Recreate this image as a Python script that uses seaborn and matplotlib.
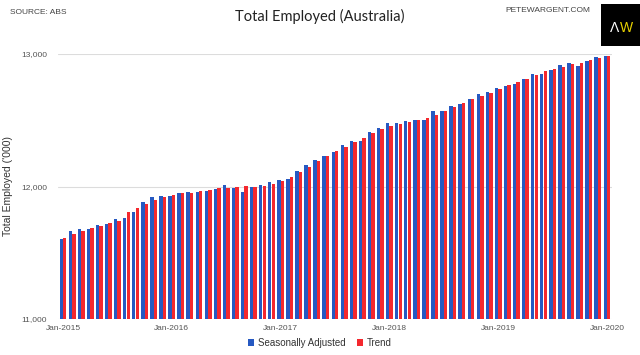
import numpy as np
import pandas as pd
import matplotlib
matplotlib.use('Agg')
import matplotlib.pyplot as plt
import matplotlib.ticker as mticker
import seaborn as sns

## =============================== ##
## data ('000 persons, monthly Jan-2015 .. Jan-2020)

months = pd.date_range('2015-01-01', '2020-01-01', freq='MS').strftime('%b-%Y').tolist()

seasonally_adjusted = [
    11601, 11666, 11679, 11677, 11707, 11719, 11752, 11760, 11805, 11881, 11921, 11931,
    11931, 11949, 11958, 11961, 11966, 11981, 12011, 11989, 11961, 11994, 12011, 12032,
    12051, 12054, 12117, 12162, 12200, 12228, 12260, 12311, 12343, 12343, 12409, 12444,
    12479, 12482, 12492, 12502, 12502, 12570, 12572, 12610, 12625, 12660, 12698, 12716,
    12743, 12756, 12773, 12809, 12846, 12851, 12881, 12917, 12930, 12909, 12947, 12975,
    12987]

trend = [
    11614, 11641, 11666, 11687, 11702, 11722, 11740, 11805, 11835, 11868, 11898, 11923,
    11936, 11949, 11953, 11966, 11974, 11986, 11989, 11996, 12002, 11994, 12004, 12021,
    12041, 12072, 12109, 12147, 12190, 12228, 12266, 12298, 12336, 12366, 12401, 12432,
    12457, 12472, 12489, 12502, 12519, 12542, 12572, 12600, 12632, 12660, 12685, 12708,
    12736, 12764, 12789, 12814, 12841, 12869, 12887, 12904, 12922, 12935, 12952, 12967,
    12987]

series_names = ['Seasonally Adjusted', 'Trend']
tick_labels = ['Jan-2015', 'Jan-2016', 'Jan-2017', 'Jan-2018', 'Jan-2019', 'Jan-2020']

df = pd.DataFrame({'month': months * 2,
                   'series': [series_names[0]] * len(months) + [series_names[1]] * len(months),
                   'employed': seasonally_adjusted + trend})

## =============================== ##

sns.set_style('white')
plt.rcParams['font.family'] = ['Liberation Sans', 'DejaVu Sans']

colors = {'Seasonally Adjusted': '#2659c2', 'Trend': '#f4282e'}

fig = plt.figure(figsize=(6.4, 3.55), dpi=100)
ax = fig.add_axes([58/640, 1 - 319/355, (612 - 58)/640, (319 - 54)/355])

sns.barplot(ax=ax, data=df, x='month', y='employed', hue='series', order=months,
            hue_order=series_names, palette=colors, width=0.78, gap=0.05,
            saturation=1, linewidth=0, errorbar=None)

ax.set_ylim(11000, 13000)
ax.set_xlim(-0.55, len(months) - 0.45)
ax.set_yticks([11000, 12000, 13000])
ax.yaxis.set_major_formatter(mticker.FuncFormatter(lambda v, p: '{:,.0f}'.format(v)))
ax.set_xticks([months.index(t) for t in tick_labels])
ax.set_xticklabels(tick_labels)
ax.tick_params(axis='both', length=0, labelsize=6, labelcolor='#555555')
ax.tick_params(axis='y', pad=8)
ax.tick_params(axis='x', pad=4)
ax.grid(axis='y', color='#dcdcdc', linewidth=0.8)
ax.set_axisbelow(True)
ax.set_xlabel('')
ax.set_ylabel("Total Employed ('000)", fontsize=7.5, color='#333333', labelpad=6)
sns.despine(ax=ax, left=True, bottom=True)

handles, labels = ax.get_legend_handles_labels()
ax.get_legend().remove()
fig.legend(handles, labels, loc='center', bbox_to_anchor=(0.5, 1 - 343/355), ncol=2,
           frameon=False, fontsize=7, handlelength=0.6, handleheight=0.6,
           handletextpad=0.4, columnspacing=1.2, labelcolor='#333333')

## header
fig.text(320/640, 1 - 16/355, 'Total Employed (Australia)', ha='center', va='center',
         fontsize=10.5, color='#222222', family=['Lato', 'DejaVu Sans'])
fig.text(10/640, 1 - 13/355, 'SOURCE: ABS', ha='left', va='center', fontsize=6, color='#444444')
fig.text(590/640, 1 - 10/355, 'PETEWARGENT.COM', ha='right', va='center', fontsize=6, color='#444444')

logo = fig.add_axes([601/640, 1 - 46/355, 39/640, 42/355])
logo.set_facecolor('black')
logo.set_xticks([])
logo.set_yticks([])
for s in logo.spines.values():
    s.set_visible(False)
logo.text(0.36, 0.42, '\u039b', ha='center', va='center', color='white', fontsize=10)
logo.text(0.66, 0.42, 'W', ha='center', va='center', color='#e8d200', fontsize=10)

fig.savefig('out.png', dpi=100)
